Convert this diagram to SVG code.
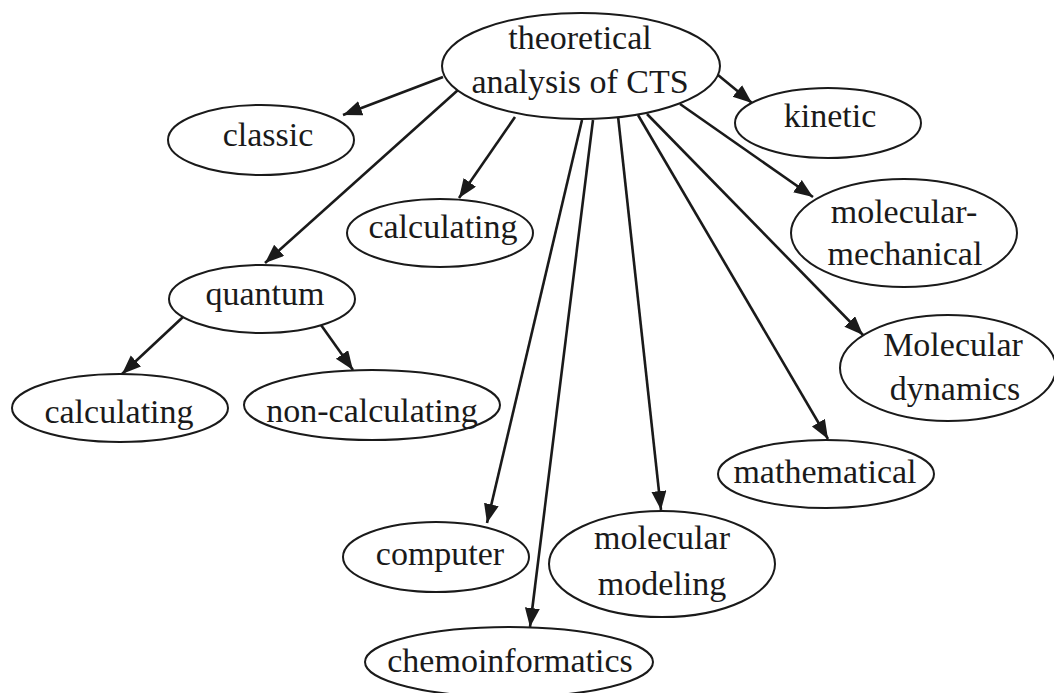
<svg xmlns="http://www.w3.org/2000/svg" width="1054" height="693" viewBox="0 0 1054 693">
<style>
.n ellipse{fill:#fff;stroke:#1a1a1a;stroke-width:2}
.n text{font-size:34px;fill:#1a1a1a;text-anchor:middle}
.e line{stroke:#1a1a1a;stroke-width:2.6;fill:none}
</style>
<defs>
<marker id="ah" markerUnits="userSpaceOnUse" markerWidth="20" markerHeight="16" refX="19" refY="7.5" orient="auto">
<path d="M0,0 L19,7.5 L0,15 Z" fill="#1a1a1a"/>
</marker>
</defs>
<rect width="1054" height="693" fill="#fff"/>
<g id="connectors" class="e">
<line x1="443" y1="77" x2="343" y2="115" marker-end="url(#ah)"/>
<line x1="458" y1="90" x2="265" y2="263" marker-end="url(#ah)"/>
<line x1="515" y1="117" x2="459" y2="198" marker-end="url(#ah)"/>
<line x1="718" y1="75" x2="752" y2="103" marker-end="url(#ah)"/>
<line x1="680" y1="104" x2="813" y2="197" marker-end="url(#ah)"/>
<line x1="647" y1="114" x2="863" y2="335" marker-end="url(#ah)"/>
<line x1="638" y1="115" x2="828" y2="439" marker-end="url(#ah)"/>
<line x1="618" y1="116" x2="661" y2="510" marker-end="url(#ah)"/>
<line x1="593" y1="120" x2="530" y2="627" marker-end="url(#ah)"/>
<line x1="582" y1="120" x2="487" y2="523" marker-end="url(#ah)"/>
<line x1="183" y1="317" x2="122" y2="374" marker-end="url(#ah)"/>
<line x1="321" y1="325" x2="353" y2="370" marker-end="url(#ah)"/>
</g>
<g font-family="Liberation Serif, serif">
<g id="node-root" class="n"><ellipse cx="581" cy="66" rx="139" ry="53"/><text x="580" y="49">theoretical</text><text x="580" y="93">analysis of CTS</text></g>
<g id="node-classic" class="n"><ellipse cx="261" cy="140" rx="93" ry="35"/><text x="268" y="146">classic</text></g>
<g id="node-calculating1" class="n"><ellipse cx="440" cy="233" rx="93" ry="34"/><text x="443" y="238">calculating</text></g>
<g id="node-quantum" class="n"><ellipse cx="262" cy="299" rx="93" ry="34"/><text x="265" y="305">quantum</text></g>
<g id="node-calculating2" class="n"><ellipse cx="120" cy="408" rx="108" ry="34"/><text x="119" y="423">calculating</text></g>
<g id="node-noncalculating" class="n"><ellipse cx="372" cy="405" rx="128" ry="35"/><text x="372" y="422">non-calculating</text></g>
<g id="node-kinetic" class="n"><ellipse cx="828" cy="123" rx="93" ry="35"/><text x="830" y="127">kinetic</text></g>
<g id="node-molmech" class="n"><ellipse cx="904" cy="233" rx="113" ry="54"/><text x="904" y="223">molecular-</text><text x="905" y="265">mechanical</text></g>
<g id="node-moldyn" class="n"><ellipse cx="948" cy="368" rx="108" ry="53"/><text x="953" y="356">Molecular</text><text x="955" y="400">dynamics</text></g>
<g id="node-mathematical" class="n"><ellipse cx="826" cy="474" rx="108" ry="34"/><text x="825" y="483">mathematical</text></g>
<g id="node-computer" class="n"><ellipse cx="436" cy="557" rx="93" ry="35"/><text x="440" y="565">computer</text></g>
<g id="node-molmodeling" class="n"><ellipse cx="662" cy="564" rx="113" ry="53"/><text x="662" y="549">molecular</text><text x="662" y="595">modeling</text></g>
<g id="node-chemo" class="n"><ellipse cx="509" cy="662" rx="144" ry="35"/><text x="510" y="672">chemoinformatics</text></g>
</g>
</svg>
